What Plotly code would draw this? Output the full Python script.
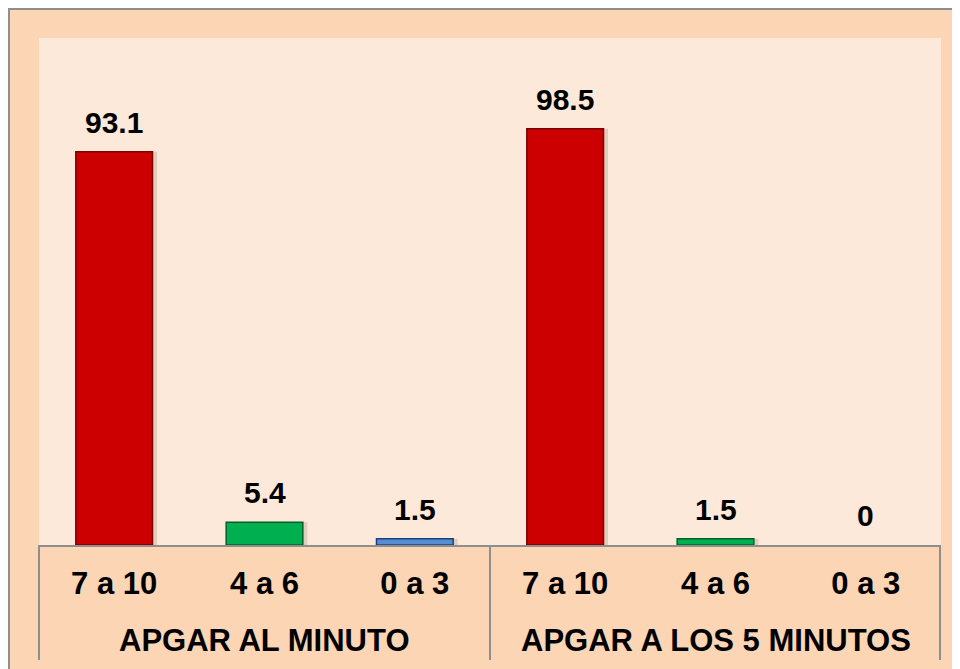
import plotly.graph_objects as go

group_names = ["APGAR AL MINUTO", "APGAR A LOS 5 MINUTOS"]
groups = ["APGAR AL MINUTO"] * 3 + ["APGAR A LOS 5 MINUTOS"] * 3
scores = ["7 a 10", "4 a 6", "0 a 3", "7 a 10", "4 a 6", "0 a 3"]
values = [93.1, 5.4, 1.5, 98.5, 1.5, 0]
labels = ["93.1", "5.4", "1.5", "98.5", "1.5", "0"]

fill_colors = ["#CC0000", "#00B050", "#558ED5", "#CC0000", "#00B050", "#558ED5"]
line_colors = ["#7A0000", "#00602A", "#1F3F7A", "#7A0000", "#00602A", "#1F3F7A"]

keys = [f"{g}|{s}" for g, s in zip(groups, scores)]
line_widths = [1.5 if v > 0 else 0 for v in values]

FONT = "Liberation Sans, Arial, sans-serif"
BAR_W = 0.51

fig = go.Figure()
# soft shadow to the right of each bar
fig.add_trace(go.Bar(
    x=keys, y=values, width=BAR_W, offset=-BAR_W / 2 + 0.03,
    marker=dict(color="rgba(90,60,40,0.16)", line=dict(width=0)),
    hoverinfo="skip",
))
fig.add_trace(go.Bar(
    x=keys, y=values, width=BAR_W, offset=-BAR_W / 2,
    marker=dict(color=fill_colors, line=dict(color=line_colors, width=line_widths)),
    hoverinfo="skip",
))

for i, (v, t) in enumerate(zip(values, labels)):
    fig.add_annotation(
        x=i, y=v, xref="x", yref="y", text=t, showarrow=False,
        yanchor="bottom", yshift=11,
        font=dict(family=FONT, size=30, color="#000000", weight="bold"),
    )

for gi, g in enumerate(group_names):
    fig.add_annotation(
        x=gi * 3 + 1, y=-0.189, xref="x", yref="paper", text=g, showarrow=False,
        yanchor="middle",
        font=dict(family=FONT, size=31, color="#000000", weight="bold"),
    )

shapes = [
    dict(type="rect", xref="paper", yref="paper", x0=-0.0333, x1=1.1,
         y0=-0.4, y1=1.0572, fillcolor="#FCD5B5",
         line=dict(color="#8E8E8E", width=2), layer="below"),
    dict(type="rect", xref="paper", yref="paper", x0=0, x1=1.0, y0=0, y1=1,
         fillcolor="#FDE9D9", line=dict(width=0), layer="below"),
]
for xp in [0.0, 0.5, 0.9989]:
    shapes.append(dict(type="line", xref="paper", yref="paper", x0=xp, x1=xp,
                       y0=0, y1=-0.2268, line=dict(color="#8E8E8E", width=2)))
fig.update_layout(shapes=shapes)

fig.update_layout(
    width=960, height=669,
    margin=dict(l=31, r=27, t=30, b=132),
    paper_bgcolor="#FCD5B5",
    plot_bgcolor="rgba(0,0,0,0)",
    showlegend=False,
    barmode="overlay",
    xaxis=dict(
        type="category",
        tickvals=keys, ticktext=scores,
        showline=True, linecolor="#8E8E8E", linewidth=2,
        ticks="outside", ticklen=10, tickcolor="rgba(0,0,0,0)",
        showgrid=False,
        tickfont=dict(family=FONT, size=31, color="#000000", weight="bold"),
    ),
    yaxis=dict(range=[0, 120], visible=False, showgrid=False, zeroline=False),
)

fig.write_html("out.html")
